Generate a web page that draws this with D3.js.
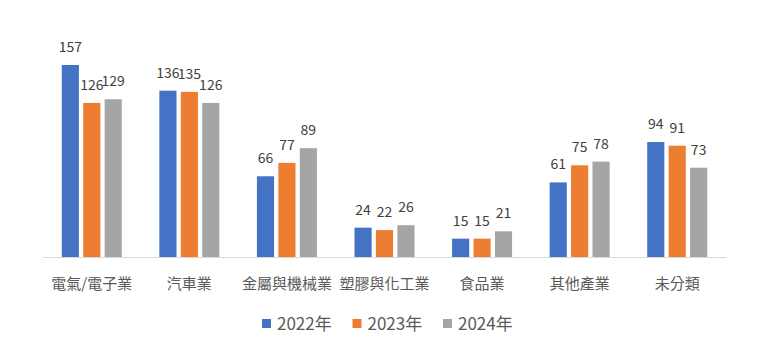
<!DOCTYPE html>
<html>
<head>
<meta charset="utf-8">
<script src="https://cdn.jsdelivr.net/npm/d3@7"></script>
<style>
  body { margin: 0; background: #fff; }
  text { font-family: "Noto Sans CJK TC", "Noto Sans", sans-serif; }
</style>
</head>
<body>
<div id="chart"></div>
<script>
// Données
const categories = ["電氣/電子業", "汽車業", "金屬與機械業", "塑膠與化工業", "食品業", "其他產業", "未分類"];
const seriesNames = ["2022年", "2023年", "2024年"];
const values2022 = [157, 136, 66, 24, 15, 61, 94];
const values2023 = [126, 135, 77, 22, 15, 75, 91];
const values2024 = [129, 126, 89, 26, 21, 78, 73];
const colors = ["#4472C4", "#ED7D31", "#A5A5A5"];

function createChart() {
    const width = 771, height = 354;
    const allValues = [values2022, values2023, values2024];

    const data = categories.map((cat, i) => ({
        cat,
        vals: seriesNames.map((s, j) => ({ serie: s, idx: j, value: allValues[j][i] }))
    }));

    const svg = d3.select("#chart")
        .append("svg")
        .attr("width", width)
        .attr("height", height);

    // Échelles
    const x0 = d3.scaleBand()
        .domain(categories)
        .range([43, 726])
        .paddingInner(0.385)
        .paddingOuter(0.1925);

    const x1 = d3.scaleBand()
        .domain(seriesNames)
        .range([0, x0.bandwidth()])
        .paddingInner(0.2);

    const y = d3.scaleLinear()
        .domain([0, 157])
        .range([257, 65]);

    // Barres
    const groups = svg.selectAll(".group")
        .data(data)
        .enter()
        .append("g")
        .attr("transform", d => `translate(${x0(d.cat)},0)`);

    groups.selectAll("rect")
        .data(d => d.vals)
        .enter()
        .append("rect")
        .attr("x", d => x1(d.serie))
        .attr("y", d => y(d.value))
        .attr("width", x1.bandwidth())
        .attr("height", d => y(0) - y(d.value))
        .attr("fill", d => colors[d.idx]);

    groups.selectAll(".val")
        .data(d => d.vals)
        .enter()
        .append("text")
        .attr("x", d => x1(d.serie) + x1.bandwidth() / 2)
        .attr("y", d => y(d.value) - 13)
        .attr("text-anchor", "middle")
        .style("font-size", "14px")
        .style("fill", "#404040")
        .text(d => d.value);

    // Axe X
    svg.append("line")
        .attr("x1", 43)
        .attr("x2", 726)
        .attr("y1", y(0) + 0.5)
        .attr("y2", y(0) + 0.5)
        .attr("stroke", "#d9d9d9")
        .attr("stroke-width", 1);

    svg.selectAll(".cat-label")
        .data(categories)
        .enter()
        .append("text")
        .attr("x", d => x0(d) + x0.bandwidth() / 2)
        .attr("y", 289)
        .attr("text-anchor", "middle")
        .style("font-size", "15px")
        .style("fill", "#595959")
        .text(d => d);

    // Légende
    const legend = svg.append("g")
        .attr("transform", "translate(262,324)");

    const items = legend.selectAll(".legend-item")
        .data(seriesNames)
        .enter()
        .append("g")
        .attr("transform", (d, i) => `translate(${i * 90.5},0)`);

    items.append("rect")
        .attr("x", 0)
        .attr("y", -5)
        .attr("width", 9)
        .attr("height", 9)
        .attr("fill", (d, i) => colors[i]);

    items.append("text")
        .attr("x", 15)
        .attr("y", 0)
        .attr("dy", "0.36em")
        .style("font-size", "17px")
        .style("fill", "#595959")
        .text(d => d);
}

createChart();
</script>
</body>
</html>
